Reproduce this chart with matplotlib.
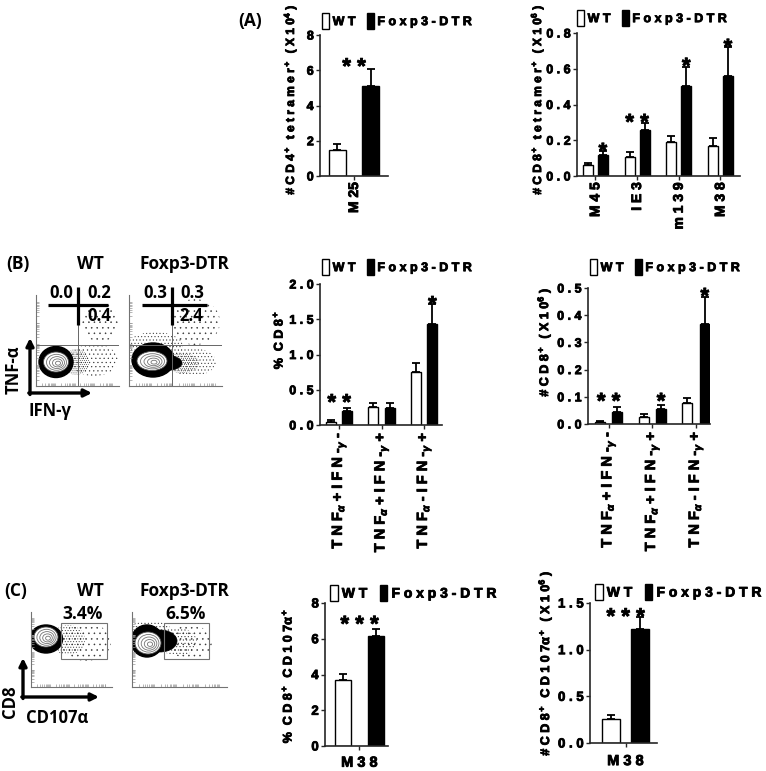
import numpy as np
import matplotlib
matplotlib.use("Agg")
import matplotlib.pyplot as plt
import matplotlib.patheffects as pe
from matplotlib.patches import Ellipse, Rectangle, Patch
from matplotlib.transforms import offset_copy

W, H = 766, 771

# ---- data ----
groups = ["W T", "F o x p 3 - D T R"]

# (A) tetramer+ counts
a1_cats = ["M 25"]
a1_wt = [1.47]
a1_wt_err = [0.33]
a1_dtr = [5.12]
a1_dtr_err = [0.95]
a1_stars = ["* *"]
a1_star_at = ["mid"]
a1_star_y = [6.45]

a2_cats = ["M 4 5", "I E 3", "m 1 3 9", "M 3 8"]
a2_wt = [0.06, 0.107, 0.192, 0.168]
a2_wt_err = [0.01, 0.028, 0.033, 0.043]
a2_dtr = [0.117, 0.257, 0.505, 0.559]
a2_dtr_err = [0.025, 0.038, 0.103, 0.161]
a2_stars = ["*", "* *", "*", "*"]
a2_star_at = ["dtr", "mid", "dtr", "dtr"]
a2_star_y = [0.162, 0.324, 0.638, 0.744]

# (B) cytokine producing CD8+
b_cats = [r"T N F$_{\alpha}$ + I F N -$_{\gamma}$ -",
          r"T N F$_{\alpha}$ + I F N -$_{\gamma}$ +",
          r"T N F$_{\alpha}$ - I F N -$_{\gamma}$ +"]
b1_wt = [0.047, 0.25, 0.747]
b1_wt_err = [0.03, 0.066, 0.137]
b1_dtr = [0.199, 0.245, 1.428]
b1_dtr_err = [0.046, 0.06, 0.284]
b1_stars = ["* *", "", "*"]
b1_star_at = ["mid", "mid", "dtr"]
b1_star_y = [0.38, 0.0, 1.77]

b2_wt = [0.006, 0.025, 0.078]
b2_wt_err = [0.004, 0.011, 0.019]
b2_dtr = [0.045, 0.055, 0.367]
b2_dtr_err = [0.019, 0.015, 0.1]
b2_stars = ["* *", "*", "*"]
b2_star_at = ["mid", "dtr", "dtr"]
b2_star_y = [0.099, 0.099, 0.485]

# (C) CD107a+ CD8+
c_cats = ["M 3 8"]
c1_wt = [3.69]
c1_wt_err = [0.34]
c1_dtr = [6.17]
c1_dtr_err = [0.36]
c1_stars = ["* * *"]
c1_star_y = [7.05]

c2_wt = [0.257]
c2_wt_err = [0.043]
c2_dtr = [1.218]
c2_dtr_err = [0.129]
c2_stars = ["* * *"]
c2_star_y = [1.40]

# flow plot numbers
b_wt_quads = ["0.0", "0.2", "0.4"]
b_dtr_quads = ["0.3", "0.3", "2.4"]
c_gates = ["3.4%", "6.5%"]

plt.rcParams['font.family'] = ['Liberation Sans', 'DejaVu Sans']
plt.rcParams['font.weight'] = 'bold'
plt.rcParams['mathtext.fontset'] = 'custom'
plt.rcParams['mathtext.rm'] = 'Liberation Sans:bold'
plt.rcParams['mathtext.it'] = 'Liberation Sans:italic:bold'
plt.rcParams['mathtext.bf'] = 'Liberation Sans:bold'
plt.rcParams['hatch.linewidth'] = 0.35
FLOW = ['Open Sans', 'DejaVu Sans']
HEAVY = [pe.withStroke(linewidth=0.6, foreground='black')]

fig = plt.figure(figsize=(W / 100, H / 100), dpi=100)


def px_axes(x0, y0, x1, y1, **kw):
    return fig.add_axes([x0 / W, 1 - y1 / H, (x1 - x0) / W, (y1 - y0) / H], **kw)


def ftext(x, y, s, **kw):
    fig.text(x / W, 1 - y / H, s, path_effects=HEAVY, **kw)


def legend_at(ax, x, y, size=9):
    handles = [Patch(facecolor='white', edgecolor='black', linewidth=1.0),
               Patch(facecolor='black', edgecolor='black', linewidth=1.0)]
    leg = ax.legend(handles, groups, ncol=2, frameon=False, loc='center left',
                    bbox_to_anchor=(x / W, 1 - y / H), bbox_transform=fig.transFigure,
                    handlelength=0.55, handleheight=1.5, handletextpad=0.3,
                    columnspacing=0.9, borderpad=0, borderaxespad=0,
                    prop={'size': size, 'weight': 'bold'})
    for t in leg.get_texts():
        t.set_path_effects(HEAVY)


def bar_panel(box, cats, wt, wt_err, dtr, dtr_err, ymax, yticks, ytl, xlim, d, w,
              stars, star_at, star_y, cat_rot=90, cat_size=10, tick_size=9, cat_pad=1.5):
    ax = px_axes(*box)
    n = len(cats)
    x = np.arange(n)
    ax.bar(x - d, wt, w, color='white', edgecolor='black', linewidth=1.0, zorder=2)
    ax.bar(x + d, dtr, w, color='black', edgecolor='black', linewidth=1.0, zorder=2)
    for xs, v, e in [(x - d, wt, wt_err), (x + d, dtr, dtr_err)]:
        ax.errorbar(xs, v, yerr=[np.zeros(n), e], fmt='none', ecolor='black',
                    elinewidth=1.3, capsize=3, capthick=1.3, zorder=3)
    ax.set_xlim(*xlim)
    ax.set_ylim(0, ymax)
    for s in ['top', 'right']:
        ax.spines[s].set_visible(False)
    for s in ['left', 'bottom']:
        ax.spines[s].set_linewidth(1.2)
        ax.spines[s].set_color('0.15')
    ax.set_yticks(yticks)
    ax.set_yticklabels(ytl, fontsize=tick_size)
    ax.set_xticks(x)
    ax.set_xticklabels(cats, rotation=cat_rot, fontsize=cat_size)
    ax.tick_params(length=3, width=1, pad=1.5, color='0.15')
    ax.tick_params(axis='x', pad=cat_pad)
    for t in ax.get_xticklabels() + ax.get_yticklabels():
        t.set_path_effects(HEAVY)
    tr = offset_copy(ax.transData, fig=fig, x=0, y=-0.5 * 16, units='points')
    for i, s in enumerate(stars):
        if not s:
            continue
        xs = x[i] + d if star_at[i] == 'dtr' else x[i]
        ax.text(xs, star_y[i], s, transform=tr, ha='center', va='baseline',
                fontsize=16, clip_on=False, path_effects=HEAVY)
    return ax


# ---- (A) ----
ax = bar_panel((320, 35, 388, 176), a1_cats, a1_wt, a1_wt_err, a1_dtr, a1_dtr_err,
               8, [0, 2, 4, 6, 8], ["0", "2", "4", "6", "8"], (-0.507, 0.507), 0.25, 0.254,
               a1_stars, a1_star_at, a1_star_y)
legend_at(ax, 322, 21)
ftext(290, 100, r"# C D 4$^+$  t e t r a m e r$^+$  ( X 1 0$^4$ )", rotation=90,
      ha='center', va='center', fontsize=8.6)

ax = bar_panel((577, 33, 740, 176), a2_cats, a2_wt, a2_wt_err, a2_dtr, a2_dtr_err,
               0.8, [0, 0.2, 0.4, 0.6, 0.8], ["0 . 0", "0 . 2", "0 . 4", "0 . 6", "0 . 8"],
               (-0.44, 3.47), 0.18, 0.24, a2_stars, a2_star_at, a2_star_y)
legend_at(ax, 577, 18)
ftext(537, 100, r"# C D 8$^+$  t e t r a m e r$^+$  ( X 1 0$^6$ )", rotation=90,
      ha='center', va='center', fontsize=8.6)

# ---- (B) ----
ax = bar_panel((320, 284, 442, 425), b_cats, b1_wt, b1_wt_err, b1_dtr, b1_dtr_err,
               2.0, [0, 0.5, 1.0, 1.5, 2.0], ["0 . 0", "0 . 5", "1 . 0", "1 . 5", "2 . 0"],
               (-0.45, 2.42), 0.194, 0.235, b1_stars, b1_star_at, b1_star_y, cat_size=10.5)
legend_at(ax, 322, 267)
ftext(278, 340, r"%  C D 8$^+$", rotation=90, ha='center', va='center', fontsize=9)

ax = bar_panel((588, 288, 710, 424), b_cats, b2_wt, b2_wt_err, b2_dtr, b2_dtr_err,
               0.5, [0, 0.1, 0.2, 0.3, 0.4, 0.5],
               ["0 . 0", "0 . 1", "0 . 2", "0 . 3", "0 . 4", "0 . 5"],
               (-0.47, 2.32), 0.2, 0.23, b2_stars, b2_star_at, b2_star_y, cat_size=10.5)
legend_at(ax, 590, 267)
ftext(544, 342, r"# C D 8$^+$  ( X 1 0$^6$ )", rotation=90, ha='center', va='center',
      fontsize=9)

# ---- (C) ----
ax = bar_panel((325, 603, 388, 746), c_cats, c1_wt, c1_wt_err, c1_dtr, c1_dtr_err,
               8, [0, 2, 4, 6, 8], ["0", "2", "4", "6", "8"], (-0.52, 0.43), 0.25, 0.242,
               c1_stars, ["mid"], c1_star_y, cat_rot=0, cat_size=10.5, tick_size=9.5,
               cat_pad=4)
legend_at(ax, 330, 593, size=10)
ftext(287, 676, r"%  C D 8$^+$  C D 1 0 7α$^+$", rotation=90, ha='center', va='center',
      fontsize=9)

ax = bar_panel((590, 603, 657, 743), c_cats, c2_wt, c2_wt_err, c2_dtr, c2_dtr_err,
               1.5, [0, 0.5, 1.0, 1.5], ["0 . 0", "0 . 5", "1 . 0", "1 . 5"],
               (-0.61, 0.54), 0.25, 0.31, c2_stars, ["mid"], c2_star_y,
               cat_rot=0, cat_size=10.5, tick_size=9.5, cat_pad=5)
legend_at(ax, 595, 592, size=10)
ftext(545, 663, r"# C D 8$^+$  C D 1 0 7α$^+$  ( X 1 0$^6$ )", rotation=90,
      ha='center', va='center', fontsize=9)


# ---- flow cytometry plots (shapes drawn in pixel space of each plot) ----
def flow_axes(box):
    x0, y0, x1, y1 = box
    ax = px_axes(x0, y0, x1, y1)
    ax.set_xlim(x0, x1)
    ax.set_ylim(y1, y0)
    ax.patch.set_alpha(0)
    for s in ['top', 'right']:
        ax.spines[s].set_visible(False)
    for s in ['left', 'bottom']:
        ax.spines[s].set_color('0.45')
        ax.spines[s].set_linewidth(0.8)
    dec = np.log10(np.arange(1, 10))
    xt = np.concatenate([x0 + (x1 - x0) * (k + dec) / 4.3 for k in range(4)])
    yt = np.concatenate([y1 - (y1 - y0) * (k + dec) / 4.3 for k in range(4)])
    ax.set_xticks(xt[(xt > x0) & (xt < x1)])
    ax.set_yticks(yt[(yt > y0) & (yt < y1)])
    ax.set_xticklabels([])
    ax.set_yticklabels([])
    ax.tick_params(direction='in', length=2, width=0.5, color='0.6')
    return ax


def blob(ax, sparse, tail, dark, core, rings=5):
    for cx, cy, w, h, hatch in sparse:
        ax.add_patch(Ellipse((cx, cy), w, h, facecolor='none', edgecolor='0.2',
                             linewidth=0, hatch=hatch))
    for cx, cy, w, h in tail:
        ax.add_patch(Ellipse((cx, cy), w, h, facecolor='black', edgecolor='black',
                             linewidth=0.5))
    cx, cy, w, h = dark
    ax.add_patch(Ellipse((cx, cy), w, h, facecolor='black', edgecolor='black'))
    cx, cy, w, h = core
    ax.add_patch(Ellipse((cx, cy), w, h, facecolor='white', edgecolor='0.3', linewidth=0.6))
    for k in range(1, rings):
        f = 1 - k / rings
        ax.add_patch(Ellipse((cx + 0.5 * k, cy + 0.3 * k), w * f, h * f, facecolor='none',
                             edgecolor='0.45', linewidth=0.6))


# B, WT
fa = flow_axes((36, 295, 119, 386))
blob(fa, [(100, 322, 36, 40, '...'), (94, 360, 48, 32, '....'),
          (76, 362, 26, 26, '........')],
     [], (56, 362, 34, 31), (56, 362, 25, 20))
fa.plot([78, 78], [303, 386], color='0.4', lw=0.7)
fa.plot([36, 119], [345, 345], color='0.4', lw=0.7)

# B, Foxp3-DTR
fa = flow_axes((129, 295, 222, 386))
blob(fa, [(195, 322, 50, 46, '...'), (155, 346, 56, 28, '.....'),
          (192, 362, 48, 28, '.....'), (182, 363, 34, 20, '........')],
     [(166, 363, 32, 15)], (153, 360, 42, 34), (152, 361, 30, 19))
fa.plot([172, 172], [303, 386], color='0.4', lw=0.7)
fa.plot([129, 222], [345, 345], color='0.4', lw=0.7)

# C, WT
fa = flow_axes((31, 612, 112, 687))
blob(fa, [(86, 642, 50, 38, '...'), (68, 640, 34, 30, '......')], [],
     (46, 639, 33, 28), (46, 637, 24, 20))
fa.add_patch(Rectangle((61, 623), 46, 36, facecolor='none', edgecolor='0.45', lw=0.8))

# C, Foxp3-DTR
fa = flow_axes((132, 612, 227, 687))
blob(fa, [(190, 642, 44, 34, '...'), (178, 642, 38, 28, '.....'),
          (150, 628, 40, 14, '.....')],
     [(160, 641, 34, 22)], (147, 641, 32, 32), (148, 643, 26, 22))
fa.add_patch(Rectangle((164, 623), 45, 36, facecolor='none', edgecolor='0.45', lw=0.8))

# overlay for arrows, quadrant crosses and labels
ov = px_axes(0, 0, W, H, zorder=10)
ov.set_xlim(0, W)
ov.set_ylim(H, 0)
ov.axis('off')
ov.patch.set_alpha(0)

arrow = dict(arrowstyle='-|>', lw=2.4, color='black', mutation_scale=11,
             shrinkA=0, shrinkB=0)
ov.annotate('', xy=(30, 338), xytext=(30, 394.5), arrowprops=arrow)
ov.annotate('', xy=(92, 393), xytext=(28.8, 393), arrowprops=arrow)
ov.annotate('', xy=(23, 658), xytext=(23, 698.5), arrowprops=arrow)
ov.annotate('', xy=(99, 697), xytext=(21.8, 697), arrowprops=arrow)

for xl, xr, xv in [(48, 108, 78), (142, 207, 172)]:
    ov.plot([xl, xr], [305, 305], color='black', lw=2.3, solid_capstyle='butt')
    ov.plot([xv, xv], [287, 325], color='black', lw=2.3, solid_capstyle='butt')

quad_pos = [(61, 293), (99, 293), (99, 316)]
for (qx, qy), s in zip(quad_pos, b_wt_quads):
    ov.text(qx, qy, s, ha='center', va='center', fontsize=12, family=FLOW)
quad_pos = [(155, 293), (192, 293), (191, 316)]
for (qx, qy), s in zip(quad_pos, b_dtr_quads):
    ov.text(qx, qy, s, ha='center', va='center', fontsize=12, family=FLOW)

ov.text(83, 614, c_gates[0], ha='center', va='center', fontsize=12.5, family=FLOW)
ov.text(186, 614, c_gates[1], ha='center', va='center', fontsize=12.5, family=FLOW)

for (tx, ty), s in zip([(250, 21), (18, 264), (16, 591)], ["(A)", "(B)", "(C)"]):
    ov.text(tx, ty, s, ha='center', va='center', fontsize=12.5, family=FLOW)
for ty in [264, 591]:
    ov.text(90, ty, "WT", ha='center', va='center', fontsize=12.5, family=FLOW)
    ov.text(184, ty, "Foxp3-DTR", ha='center', va='center', fontsize=12.5, family=FLOW)

ov.text(14, 370, "TNF-α", rotation=90, ha='center', va='center', fontsize=12, family=FLOW)
ov.text(50, 411, "IFN-γ", ha='center', va='center', fontsize=12, family=FLOW)
ov.text(10, 702, "CD8", rotation=90, ha='center', va='center', fontsize=12, family=FLOW)
ov.text(57, 718, "CD107α", ha='center', va='center', fontsize=12, family=FLOW)

fig.savefig("out.png", dpi=100)
